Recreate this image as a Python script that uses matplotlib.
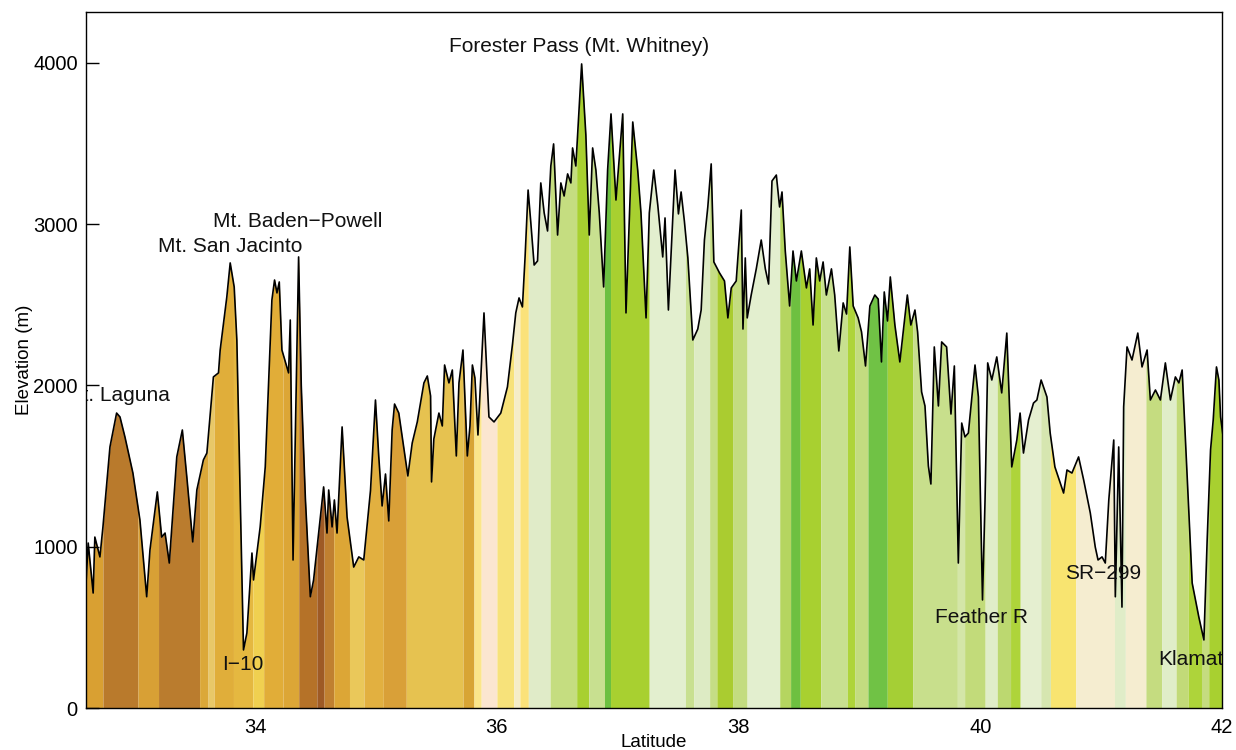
import numpy as np
import matplotlib
matplotlib.use("Agg")
import matplotlib.pyplot as plt

# ---- elevation profile (latitude, metres) ----
lat = [32.600, 32.618, 32.659, 32.673, 32.715, 32.740, 32.798, 32.853, 32.881, 32.922,
       32.988, 33.046, 33.102, 33.129, 33.190, 33.226, 33.254, 33.289, 33.351, 33.397,
       33.434, 33.483, 33.517, 33.571, 33.600, 33.654, 33.696, 33.710, 33.765, 33.793,
       33.826, 33.848, 33.876, 33.903, 33.931, 33.973, 33.986, 34.041, 34.083, 34.138,
       34.160, 34.180, 34.199, 34.221, 34.276, 34.290, 34.313, 34.340, 34.359, 34.381,
       34.415, 34.456, 34.483, 34.566, 34.594, 34.608, 34.636, 34.655, 34.677, 34.719,
       34.760, 34.815, 34.857, 34.898, 34.954, 34.995, 35.022, 35.050, 35.078, 35.105,
       35.133, 35.153, 35.188, 35.230, 35.263, 35.299, 35.341, 35.396, 35.424, 35.451,
       35.459, 35.478, 35.520, 35.548, 35.567, 35.603, 35.631, 35.664, 35.686, 35.719,
       35.755, 35.777, 35.797, 35.818, 35.843, 35.893, 35.934, 35.976, 36.032, 36.087,
       36.129, 36.156, 36.183, 36.211, 36.233, 36.258, 36.280, 36.308, 36.336, 36.363,
       36.391, 36.419, 36.446, 36.469, 36.502, 36.529, 36.556, 36.585, 36.612, 36.626,
       36.653, 36.701, 36.736, 36.764, 36.792, 36.819, 36.847, 36.883, 36.916, 36.944,
       36.985, 37.041, 37.068, 37.124, 37.165, 37.192, 37.234, 37.261, 37.298, 37.331,
       37.372, 37.391, 37.419, 37.474, 37.502, 37.524, 37.551, 37.580, 37.621, 37.662,
       37.690, 37.717, 37.745, 37.773, 37.795, 37.842, 37.883, 37.911, 37.939, 37.980,
       38.022, 38.036, 38.055, 38.071, 38.104, 38.146, 38.187, 38.221, 38.248, 38.276,
       38.312, 38.339, 38.359, 38.386, 38.422, 38.450, 38.478, 38.519, 38.561, 38.588,
       38.616, 38.643, 38.671, 38.699, 38.726, 38.768, 38.795, 38.829, 38.865, 38.893,
       38.920, 38.948, 38.989, 39.017, 39.050, 39.086, 39.127, 39.155, 39.182, 39.205,
       39.232, 39.255, 39.293, 39.334, 39.362, 39.396, 39.425, 39.459, 39.481, 39.514,
       39.542, 39.570, 39.591, 39.619, 39.653, 39.680, 39.721, 39.757, 39.785, 39.818,
       39.846, 39.873, 39.901, 39.956, 39.984, 40.018, 40.039, 40.061, 40.095, 40.136,
       40.177, 40.219, 40.260, 40.302, 40.329, 40.357, 40.399, 40.440, 40.468, 40.503,
       40.551, 40.578, 40.617, 40.689, 40.717, 40.758, 40.813, 40.855, 40.910, 40.951,
       40.974, 41.007, 41.034, 41.063, 41.104, 41.117, 41.145, 41.172, 41.186, 41.214,
       41.255, 41.303, 41.338, 41.380, 41.407, 41.449, 41.490, 41.531, 41.573, 41.614,
       41.643, 41.670, 41.697, 41.753, 41.808, 41.850, 41.877, 41.905, 41.927, 41.954,
       41.974, 41.988, 42.020]
elev = [775, 1023, 713, 1060, 937, 1123, 1619, 1829, 1805, 1681,
        1457, 1166, 690, 980, 1340, 1060, 1085, 899, 1557, 1724,
        1433, 1030, 1352, 1538, 1581, 2053, 2078, 2220, 2549, 2760,
        2611, 2282, 1290, 360, 465, 961, 794, 1123, 1495, 2530,
        2654, 2574, 2642, 2220, 2078, 2406, 918, 2000, 2797, 2000,
        1300, 690, 794, 1371, 1085, 1352, 1123, 1290, 1085, 1743,
        1185, 874, 937, 918, 1350, 1910, 1563, 1253, 1451, 1160,
        1724, 1885, 1829, 1612, 1439, 1643, 1774, 2016, 2059, 1935,
        1402, 1668, 1829, 1749, 2127, 2016, 2096, 1563, 2016, 2220,
        1563, 1749, 2127, 2047, 1693, 2450, 1805, 1774, 1829, 1991,
        2257, 2450, 2543, 2487, 2797, 3212, 3014, 2747, 2772, 3256,
        3070, 2958, 3361, 3498, 2933, 3256, 3175, 3312, 3256, 3473,
        3361, 3994, 3553, 2933, 3473, 3336, 3070, 2611, 3336, 3684,
        3150, 3684, 2450, 3634, 3336, 3070, 2419, 3070, 3336, 3119,
        2797, 3039, 2468, 3336, 3064, 3200, 3020, 2791, 2282, 2350,
        2468, 2902, 3107, 3374, 2766, 2698, 2648, 2419, 2605, 2648,
        3088, 2350, 2791, 2419, 2561, 2723, 2902, 2723, 2629, 3268,
        3305, 3107, 3200, 2834, 2493, 2834, 2648, 2834, 2605, 2723,
        2375, 2791, 2648, 2766, 2561, 2723, 2561, 2214, 2512, 2443,
        2859, 2493, 2419, 2332, 2121, 2493, 2561, 2536, 2146, 2580,
        2400, 2673, 2375, 2146, 2332, 2561, 2375, 2468, 2332, 1960,
        1873, 1501, 1389, 2239, 1873, 2270, 2239, 1823, 2121, 899,
        1767, 1681, 1705, 2127, 1929, 670, 1290, 2140, 2034, 2177,
        1954, 2325, 1495, 1662, 1829, 1581, 1786, 1891, 1910, 2034,
        1929, 1705, 1495, 1333, 1476, 1457, 1557, 1414, 1209, 998,
        918, 937, 899, 1290, 1662, 690, 1619, 626, 1867, 2239,
        2158, 2325, 2115, 2220, 1910, 1972, 1910, 2140, 1910, 2053,
        2016, 2096, 1662, 775, 564, 422, 1042, 1600, 1786, 2115,
        2034, 1805, 1619]

# ---- vegetation colour bands along the trail ----
band_edges = [32.60, 32.74, 33.03, 33.20, 33.54, 33.61, 33.66, 33.82, 33.98, 34.07,
              34.23, 34.36, 34.51, 34.57, 34.65, 34.78, 34.90, 35.06, 35.25, 35.72,
              35.81, 35.87, 36.00, 36.14, 36.19, 36.26, 36.44, 36.66, 36.76, 36.89,
              36.94, 37.26, 37.56, 37.63, 37.76, 37.82, 37.95, 38.07, 38.34, 38.43,
              38.51, 38.68, 38.90, 38.96, 39.07, 39.23, 39.44, 39.81, 39.87, 40.04,
              40.14, 40.25, 40.33, 40.50, 40.58, 40.79, 41.11, 41.20, 41.37, 41.50,
              41.62, 41.72, 41.83, 41.89, 42.02]
band_colors = ["#D9A032", "#B97A2C", "#D8A035", "#BA7C2E", "#DBA838", "#E8C868", "#E0AE3A",
               "#E5B840", "#F0D050", "#E1AD38", "#DCA636", "#B57228", "#9E5A25", "#C08030",
               "#DCA636", "#EAC85A", "#E2B040", "#D9A038", "#E6C250", "#D8A535", "#FBE68A",
               "#FBE6D0", "#F7E27A", "#F5EDC8", "#FBE27A", "#E0EBC8", "#C5DD80", "#A8D030",
               "#C8E090", "#6CC040", "#A8D030", "#E3EFCF", "#C8E090", "#DDEBC4", "#C5DD85",
               "#AACC30", "#C3DC80", "#E3EFCF", "#B5D560", "#6EC040", "#A8D030", "#C8E090",
               "#AED43A", "#C3DC80", "#70C245", "#A5CF35", "#C8DF8C", "#D4E6A8", "#C2DB7A",
               "#E0EDC8", "#BCD870", "#AED43A", "#E5EFD0", "#D6E6B0", "#F8E470", "#F5EDD0",
               "#E0EDC8", "#F5EDD0", "#C5DC80", "#E0EDC8", "#C2DA78", "#AED43A", "#C5DC80",
               "#A8D030"]

# ---- annotations ----
label_text = ["Forester Pass (Mt. Whitney)", "Mt. Baden\u2212Powell", "Mt. San Jacinto",
              "Mt. Laguna", "I\u221210", "Feather R", "SR\u2212299", "Klamath"]
label_lat = [36.678, 33.652, 33.196, 33.295, 33.900, 40.010, 41.020, 41.470]
label_elev = [4099, 3014, 2859, 1935, 267, 564, 837, 298]
label_ha = ["center", "left", "left", "right", "center", "center", "center", "left"]

yticks = [0, 1000, 2000, 3000, 4000]
xticks = [34, 36, 38, 40, 42]

plt.rcParams['font.family'] = ['Liberation Sans', 'DejaVu Sans']

fig = plt.figure(figsize=(12.36, 7.5), dpi=100)
ax = fig.add_axes([0.0696, 0.056, 0.9191, 0.928])

lat_a = np.array(lat)
elev_a = np.array(elev)
for lo, hi, c in zip(band_edges[:-1], band_edges[1:], band_colors):
    inside = (lat_a > lo) & (lat_a < hi)
    xs = np.concatenate([[lo], lat_a[inside], [hi]])
    ys = np.interp(xs, lat_a, elev_a)
    ax.fill_between(xs, 0, ys, color=c, linewidth=0)

ax.plot(lat, elev, color="black", linewidth=1.2, zorder=3)

for t, x, y, ha in zip(label_text, label_lat, label_elev, label_ha):
    ax.text(x, y, t, ha=ha, va="center", fontsize=15, color="#111111",
            clip_on=True, zorder=4)

ax.set_xlim(32.6, 42.0)
ax.set_ylim(0, 4316)
ax.set_xticks(xticks)
ax.set_yticks(yticks)
ax.tick_params(axis="y", direction="in", length=9, width=1, labelsize=14.5, pad=6)
ax.tick_params(axis="x", length=0, labelsize=14.5, pad=7)
ax.set_xlabel("Latitude", fontsize=13.5, labelpad=-2)
ax.set_ylabel("Elevation (m)", fontsize=13.5, labelpad=0)
for s in ax.spines.values():
    s.set_linewidth(1.0)
    s.set_zorder(5)

fig.savefig("out.png", dpi=100)
